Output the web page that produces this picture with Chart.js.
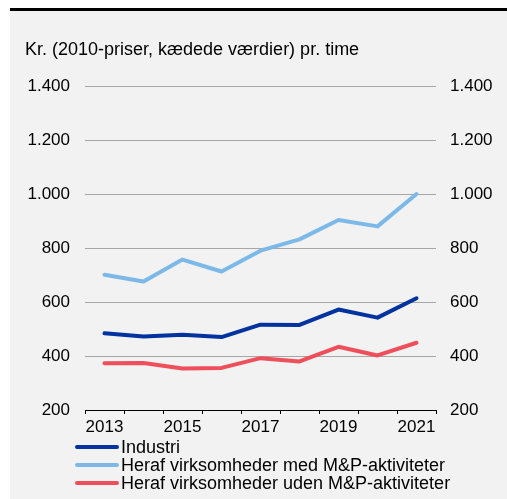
<!DOCTYPE html>
<html>
<head>
<meta charset="utf-8">
<script src="https://cdn.jsdelivr.net/npm/chart.js@4/dist/chart.umd.min.js"></script>
<style>
html,body{margin:0;padding:0;background:#fff;width:507px;height:499px;overflow:hidden;}
#frame{position:absolute;left:10px;top:8px;width:497px;height:491px;border-top:3px solid #000;background:#f2f2f2;box-sizing:border-box;}
#wrap{position:absolute;left:0;top:0;width:497px;height:488px;}
</style>
</head>
<body>
<div id="frame"><div id="wrap"><canvas id="c" width="497" height="488"></canvas></div></div>
<script>
const title = "Kr. (2010-priser, kædede værdier) pr. time";
const years = ["2013","2014","2015","2016","2017","2018","2019","2020","2021"];
const industri = [484, 472, 479, 470, 516, 515, 572, 542, 614];
const medMP = [701, 676, 757, 713, 790, 832, 904, 880, 1000];
const udenMP = [373, 374, 354, 356, 392, 380, 434, 402, 449];
const seriesNames = ["Industri", "Heraf virksomheder med M&P-aktiviteter", "Heraf virksomheder uden M&P-aktiviteter"];
const seriesColors = ["#0033a0", "#7cb9e8", "#ee4f5b"];
const yMin = 200, yMax = 1400, yStep = 200;

const FONT = "'Liberation Sans', Arial, sans-serif";

function fmt(v){ return v >= 1000 ? Math.floor(v/1000) + "." + String(v%1000).padStart(3,"0") : String(v); }

const legendPlugin = {
  id: 'customLegend',
  afterDraw(chart){
    const ctx = chart.ctx;
    ctx.save();
    // title
    ctx.font = "18px " + FONT;
    ctx.fillStyle = "#000";
    ctx.textBaseline = "alphabetic";
    ctx.textAlign = "left";
    ctx.fillText(title, 15, 44);
    // legend
    const x0 = 67, x1 = 107, tx = 111, y0 = 436, dy = 18;
    chart.data.datasets.forEach((ds, i) => {
      const y = y0 + i*dy;
      ctx.strokeStyle = ds.borderColor;
      ctx.lineWidth = 4;
      ctx.lineCap = "round";
      ctx.beginPath(); ctx.moveTo(x0, y); ctx.lineTo(x1, y); ctx.stroke();
      ctx.fillStyle = "#000";
      ctx.textBaseline = "middle";
      ctx.fillText(ds.label, tx, y + 1);
    });
    ctx.restore();
  }
};

const mk = (label, data, color) => ({
  label, data, borderColor: color, backgroundColor: color,
  borderWidth: 4, pointRadius: 0, tension: 0, borderCapStyle: 'round', borderJoinStyle: 'round', fill: false, yAxisID: 'y'
});

new Chart(document.getElementById('c'), {
  type: 'line',
  data: {
    labels: years,
    datasets: [
      mk(seriesNames[0], industri, seriesColors[0]),
      mk(seriesNames[1], medMP, seriesColors[1]),
      mk(seriesNames[2], udenMP, seriesColors[2])
    ]
  },
  options: {
    responsive: false,
    animation: false,
    devicePixelRatio: 1,
    layout: { padding: { left: 0, right: 0, top: 75, bottom: 0 } },
    plugins: { legend: { display: false }, tooltip: { enabled: false } },
    scales: {
      x: {
        type: 'category',
        offset: true,
        grid: { offset: true, drawOnChartArea: false, drawTicks: true, tickLength: 4, tickColor: '#000', lineWidth: 1 },
        border: { display: true, color: '#000', width: 1 },
        ticks: {
          autoSkip: false, maxRotation: 0, padding: 3, color: '#000',
          font: { family: FONT, size: 17 },
          callback: function(v, i){ return i % 2 === 0 ? this.getLabelForValue(v) : ''; }
        },
        afterFit(s){ s.height = 89; }
      },
      y: {
        position: 'left', min: yMin, max: yMax,
        grid: { drawTicks: false, color: (c) => c.tick.value === yMin ? 'rgba(0,0,0,0)' : '#a6a6a6', lineWidth: 1 },
        border: { display: false },
        ticks: { stepSize: yStep, padding: 15, color: '#000', font: { family: FONT, size: 17 }, callback: (v) => fmt(v) },
        afterFit(s){ s.width = 75; }
      },
      y2: {
        position: 'right', min: yMin, max: yMax,
        grid: { display: false, drawTicks: false },
        border: { display: false },
        ticks: { stepSize: yStep, padding: 14, color: '#000', font: { family: FONT, size: 17 }, callback: (v) => fmt(v) },
        afterFit(s){ s.width = 71; }
      }
    }
  },
  plugins: [legendPlugin]
});
</script>
</body>
</html>
